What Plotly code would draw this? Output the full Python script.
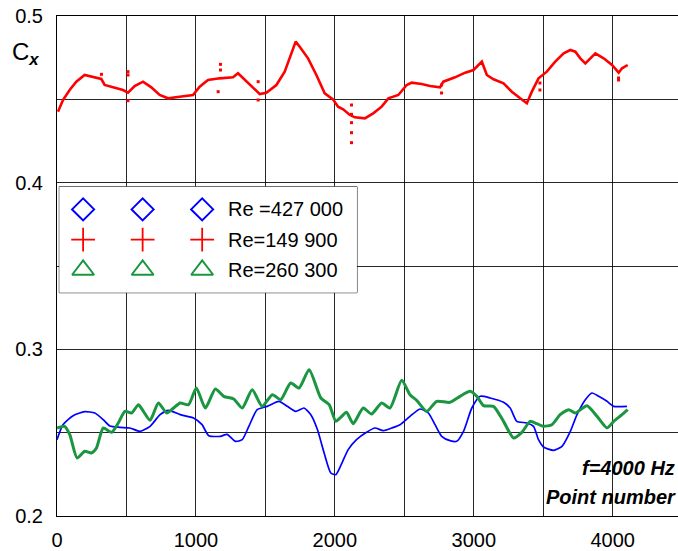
import plotly.graph_objects as go

# ---- data ----
red_x = [7, 43, 91, 139, 199, 259, 319, 343, 403, 475, 511, 559, 619, 679, 739, 799, 883, 979,
         1027, 1087, 1171, 1267, 1303, 1351, 1411, 1459, 1507, 1579, 1639, 1687, 1718, 1747, 1807,
         1867, 1927, 1987, 2023, 2060, 2108, 2144, 2216, 2276, 2337, 2385, 2457, 2517, 2553, 2625,
         2685, 2757, 2781, 2865, 2938, 2998, 3058, 3094, 3142, 3214, 3274, 3334, 3382, 3418, 3466,
         3526, 3586, 3647, 3695, 3731, 3767, 3803, 3839, 3875, 3935, 3995, 4043, 4067, 4108]
red_y = [0.4426, 0.4496, 0.4556, 0.4606, 0.4646, 0.4636, 0.4622, 0.4586, 0.4572, 0.4556, 0.4540,
         0.4580, 0.4606, 0.4572, 0.4526, 0.4506, 0.4516, 0.4526, 0.4576, 0.4616, 0.4626, 0.4632,
         0.4656, 0.4616, 0.4572, 0.4532, 0.4540, 0.4586, 0.4666, 0.4776, 0.4846, 0.4816, 0.4746,
         0.4646, 0.4536, 0.4500, 0.4456, 0.4440, 0.4406, 0.4392, 0.4386, 0.4416, 0.4456, 0.4506,
         0.4526, 0.4586, 0.4600, 0.4592, 0.4580, 0.4572, 0.4606, 0.4632, 0.4660, 0.4676, 0.4726,
         0.4646, 0.4620, 0.4596, 0.4546, 0.4506, 0.4476, 0.4546, 0.4626, 0.4666, 0.4726, 0.4776,
         0.4796, 0.4786, 0.4746, 0.4716, 0.4746, 0.4776, 0.4746, 0.4706, 0.4660, 0.4686, 0.4706]

red_out_x = [320, 511, 511, 511, 1160, 1177, 1177, 1448, 1448, 2120, 2120, 2120, 2120, 2120,
             2768, 2768, 3476, 3476, 4042, 4042]
red_out_y = [0.4650, 0.4666, 0.4646, 0.4492, 0.4546, 0.4710, 0.4676, 0.4606, 0.4496, 0.4466,
             0.4410, 0.4360, 0.4300, 0.4240, 0.4586, 0.4538, 0.4598, 0.4556, 0.4628, 0.4616]

blue_x = [0, 43, 116, 200, 272, 333, 381, 453, 525, 598, 670, 742, 803, 887, 983, 1044, 1092,
          1176, 1224, 1285, 1333, 1381, 1441, 1513, 1598, 1658, 1718, 1778, 1827, 1875, 1923,
          1971, 2007, 2044, 2096, 2156, 2228, 2288, 2349, 2409, 2469, 2541, 2613, 2673, 2721,
          2769, 2829, 2877, 2926, 2986, 3046, 3118, 3214, 3262, 3310, 3382, 3430, 3466, 3502,
          3574, 3635, 3695, 3743, 3803, 3851, 3899, 3959, 4007, 4103]
blue_y = [0.2458, 0.2548, 0.2602, 0.2626, 0.2618, 0.2578, 0.2540, 0.2532, 0.2528, 0.2508,
          0.2538, 0.2608, 0.2634, 0.2608, 0.2588, 0.2548, 0.2482, 0.2478, 0.2490, 0.2448,
          0.2458, 0.2538, 0.2638, 0.2658, 0.2688, 0.2658, 0.2628, 0.2648, 0.2608, 0.2518,
          0.2378, 0.2258, 0.2248, 0.2305, 0.2398, 0.2458, 0.2502, 0.2528, 0.2512, 0.2528,
          0.2548, 0.2598, 0.2642, 0.2618, 0.2548, 0.2478, 0.2452, 0.2448, 0.2508, 0.2648,
          0.2718, 0.2708, 0.2682, 0.2648, 0.2568, 0.2558, 0.2538, 0.2458, 0.2414, 0.2394,
          0.2418, 0.2508, 0.2608, 0.2698, 0.2738, 0.2718, 0.2688, 0.2658, 0.2658]

green_x = [0, 55, 92, 145, 200, 248, 284, 333, 393, 441, 489, 537, 586, 622, 670, 730, 790, 839,
           887, 947, 1003, 1068, 1140, 1200, 1272, 1333, 1405, 1477, 1550, 1610, 1682, 1742,
           1815, 1899, 1959, 2007, 2040, 2084, 2132, 2204, 2264, 2337, 2397, 2481, 2541, 2589,
           2661, 2733, 2829, 2901, 2974, 3022, 3070, 3142, 3214, 3286, 3346, 3406, 3454, 3502,
           3562, 3622, 3683, 3731, 3815, 3887, 3959, 4007, 4067, 4108]
green_y = [0.2528, 0.2538, 0.2488, 0.2348, 0.2388, 0.2378, 0.2408, 0.2528, 0.2502, 0.2558,
           0.2628, 0.2618, 0.2668, 0.2628, 0.2574, 0.2678, 0.2618, 0.2648, 0.2678, 0.2668,
           0.2768, 0.2648, 0.2762, 0.2718, 0.2702, 0.2648, 0.2758, 0.2658, 0.2728, 0.2698,
           0.2798, 0.2768, 0.2878, 0.2708, 0.2668, 0.2568, 0.2590, 0.2622, 0.2554, 0.2648,
           0.2612, 0.2678, 0.2648, 0.2814, 0.2728, 0.2694, 0.2628, 0.2688, 0.2682, 0.2718,
           0.2748, 0.2718, 0.2662, 0.2658, 0.2568, 0.2468, 0.2502, 0.2568, 0.2554, 0.2538,
           0.2548, 0.2608, 0.2638, 0.2618, 0.2662, 0.2598, 0.2528, 0.2568, 0.2608, 0.2638]

x_range = [0, 4470]
y_range = [0.2, 0.5]
x_major, x_minor = 1000, 500
y_major, y_minor = 0.1, 0.05

legend_labels = ["Re =427 000", "Re=149 900", "Re=260 300"]
legend_symbols = ["diamond-open", "cross-thin-open", "triangle-up-open"]
legend_colors = ["#0000ff", "#ff0000", "#1a9641"]
legend_rows = [2.75, 1.75, 0.75]
legend_cols = [0.8, 2.8, 4.8]

BLUE = "#0000ff"
RED = "#ff0000"
GREEN = "#1a9641"
FONT = "Liberation Sans, Arial, sans-serif"

fig = go.Figure()

fig.add_trace(go.Scatter(x=red_x, y=red_y, mode="lines", line=dict(color=RED, width=2.6),
                         showlegend=False))
fig.add_trace(go.Scatter(x=red_out_x, y=red_out_y, mode="markers",
                         marker=dict(color=RED, size=3, symbol="square"), showlegend=False))
fig.add_trace(go.Scatter(x=blue_x, y=blue_y, mode="lines",
                         line=dict(color=BLUE, width=1.7, shape="spline", smoothing=0.6),
                         showlegend=False))
fig.add_trace(go.Scatter(x=green_x, y=green_y, mode="lines",
                         line=dict(color=GREEN, width=3, shape="spline", smoothing=0.6),
                         showlegend=False))

# hand-made legend box on its own small axes
for lab, sym, col, row in zip(legend_labels, legend_symbols, legend_colors, legend_rows):
    fig.add_trace(go.Scatter(
        x=legend_cols, y=[row] * len(legend_cols), mode="markers", xaxis="x2", yaxis="y2",
        marker=dict(symbol=sym, size=17 if sym != "triangle-up-open" else 19,
                    color=col, line=dict(color=col, width=2 if sym != "cross-thin-open" else 1.8)),
        showlegend=False, hoverinfo="skip"))
    fig.add_annotation(x=5.6, y=row, xref="x2", yref="y2", text=lab, showarrow=False,
                       xanchor="left", yanchor="middle", font=dict(family=FONT, size=20, color="black"))

fig.add_shape(type="rect", xref="x2 domain", yref="y2 domain", x0=0, x1=1, y0=0, y1=1,
              fillcolor="white", line=dict(color="black", width=1), layer="below")

fig.add_annotation(x=-0.05, y=0.924, xref="paper", yref="paper", showarrow=False,
                   text="C<sub><b><i>x</i></b></sub>", xanchor="center", yanchor="middle",
                   font=dict(family=FONT, size=24, color="black"))
fig.add_annotation(x=0.998, y=0.096, xref="paper", yref="paper", showarrow=False,
                   text="<b><i>f=4000 Hz</i></b>", xanchor="right", yanchor="middle",
                   font=dict(family=FONT, size=20, color="black"))
fig.add_annotation(x=1.0, y=0.038, xref="paper", yref="paper", showarrow=False,
                   text="<b><i>Point number</i></b>", xanchor="right", yanchor="middle",
                   font=dict(family=FONT, size=20, color="black"))

grid = "rgba(0,0,0,0.85)"
fig.update_layout(
    width=678, height=551,
    margin=dict(l=57, r=0, t=16, b=35),
    paper_bgcolor="white", plot_bgcolor="white",
    font=dict(family=FONT, size=20, color="black"),
    showlegend=False,
    xaxis=dict(range=x_range, tick0=0, dtick=x_major, showgrid=True,
               gridcolor=grid, gridwidth=1, zeroline=False, showline=True, linecolor="black",
               linewidth=1, mirror=True, ticks="", ticklabelstandoff=6,
               minor=dict(dtick=x_minor, tick0=0, showgrid=True, gridcolor=grid, gridwidth=1),
               tickfont=dict(family=FONT, size=20, color="black")),
    yaxis=dict(range=y_range, tick0=0.2, dtick=y_major, tickformat=".1f", showgrid=True,
               gridcolor=grid, gridwidth=1, zeroline=False, showline=True, linecolor="black",
               linewidth=1, ticks="", ticklabelstandoff=9,
               minor=dict(dtick=y_minor, tick0=0.2, showgrid=True, gridcolor=grid, gridwidth=1),
               tickfont=dict(family=FONT, size=20, color="black")),
    xaxis2=dict(domain=[0.0037, 0.483], range=[0, 10], anchor="y2", showgrid=False,
                zeroline=False, showticklabels=False, ticks="", showline=False),
    yaxis2=dict(domain=[0.4466, 0.6586], range=[0, 3.5], anchor="x2", showgrid=False,
                zeroline=False, showticklabels=False, ticks="", showline=False),
)

fig.write_html("out.html")
